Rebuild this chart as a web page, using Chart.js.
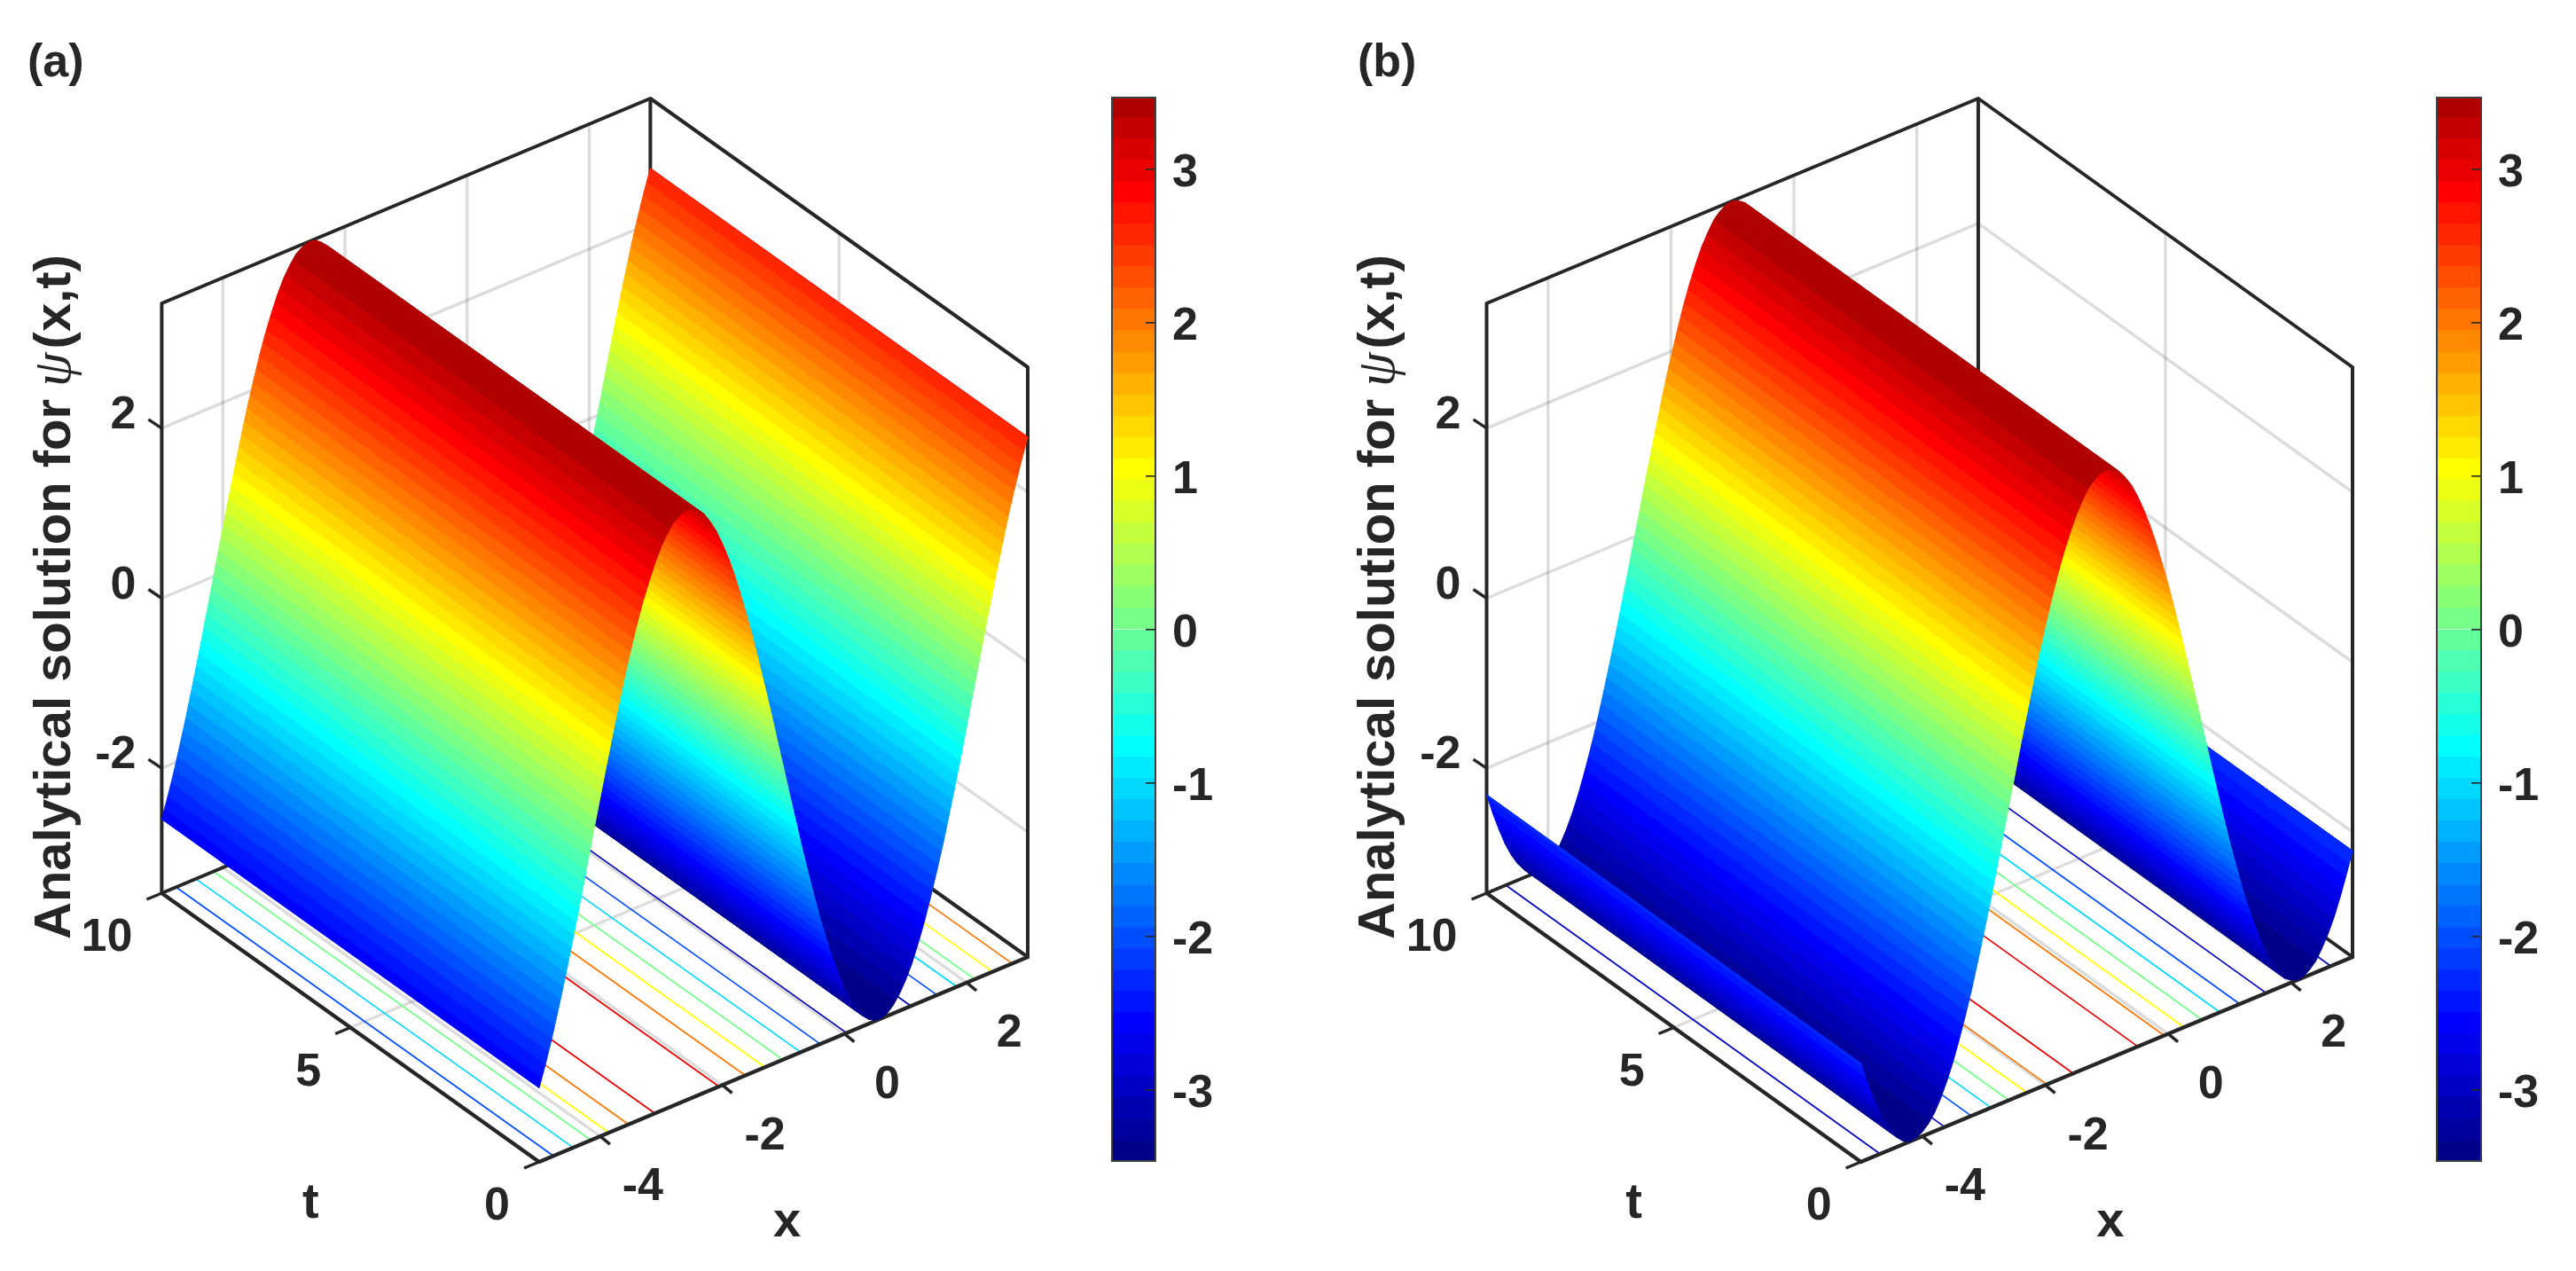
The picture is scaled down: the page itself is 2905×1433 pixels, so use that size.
<!DOCTYPE html>
<html><head><meta charset="utf-8">
<style>html,body{margin:0;padding:0;background:#fff;width:2905px;height:1433px;overflow:hidden}canvas{position:absolute;display:block;filter:blur(0.6px)}</style>
<script src="https://cdn.jsdelivr.net/npm/chart.js@4"></script>
</head><body>
<canvas id="panelA" style="left:0;top:0" width="2905" height="1433"></canvas>
<canvas id="panelB" style="left:0;top:0" width="2905" height="1433"></canvas>
<canvas id="barA" style="left:1253px;top:109px" width="197" height="1201"></canvas>
<canvas id="barB" style="left:2747px;top:109px" width="158" height="1201"></canvas>
<script>
// ---- data ----
const xValues=[-5,-4.9,-4.8,-4.7,-4.6,-4.5,-4.4,-4.3,-4.2,-4.1,-4,-3.9,-3.8,-3.7,-3.6,-3.5,-3.4,-3.3,-3.2,-3.1,-3,-2.9,-2.8,-2.7,-2.6,-2.5,-2.4,-2.3,-2.2,-2.1,-2,-1.9,-1.8,-1.7,-1.6,-1.5,-1.4,-1.3,-1.2,-1.1,-1,-0.9,-0.8,-0.7,-0.6,-0.5,-0.4,-0.3,-0.2,-0.1,0,0.1,0.2,0.3,0.4,0.5,0.6,0.7,0.8,0.9,1,1.1,1.2,1.3,1.4,1.5,1.6,1.7,1.8,1.9,2,2.1,2.2,2.3,2.4,2.5,2.6,2.7,2.8,2.9,3];
const psiA=[-2.60,-2.36,-2.10,-1.81,-1.51,-1.19,-0.86,-0.52,-0.17,0.18,0.52,0.86,1.19,1.51,1.82,2.10,2.37,2.61,2.82,3.01,3.17,3.29,3.39,3.44,3.47,3.46,3.41,3.34,3.22,3.08,2.90,2.70,2.47,2.21,1.93,1.64,1.32,0.99,0.66,0.31,-0.03,-0.38,-0.72,-1.06,-1.38,-1.69,-1.99,-2.26,-2.51,-2.74,-2.94,-3.11,-3.25,-3.35,-3.42,-3.46,-3.47,-3.44,-3.37,-3.27,-3.14,-2.98,-2.78,-2.56,-2.31,-2.04,-1.76,-1.45,-1.13,-0.80,-0.46,-0.11,0.23,0.58,0.92,1.25,1.56,1.87,2.15,2.41,2.65];
const psiB=[-2.31,-2.56,-2.78,-2.98,-3.14,-3.27,-3.37,-3.44,-3.47,-3.46,-3.42,-3.35,-3.25,-3.11,-2.94,-2.74,-2.51,-2.26,-1.99,-1.69,-1.38,-1.06,-0.72,-0.38,-0.03,0.31,0.66,0.99,1.32,1.64,1.93,2.21,2.47,2.70,2.90,3.08,3.22,3.34,3.41,3.46,3.47,3.44,3.39,3.29,3.17,3.01,2.82,2.61,2.37,2.10,1.82,1.51,1.19,0.86,0.52,0.18,-0.17,-0.52,-0.86,-1.19,-1.51,-1.81,-2.10,-2.36,-2.60,-2.82,-3.01,-3.17,-3.29,-3.39,-3.44,-3.47,-3.46,-3.41,-3.34,-3.22,-3.08,-2.91,-2.70,-2.47,-2.22];
const tRange=[0,10];
const xTicks=[-4,-2,0,2];
const tTicks=[0,5,10];
const zTicks=[-2,0,2];
const colorbarTicks=[-3,-2,-1,0,1,2,3];
const contourLevels=[-3,-2,-1,0,1,2,3];
const zLimits=[-3.47,3.47];
const xLimits=[-5,3];
const yTitleText=['Analytical solution for ','\u03C8','(x,t)'];

// ---- axes calibration of the two 3D boxes (page pixels) ----
const boxA={front:[608,1310],left:[182.4,1007],right:[1159,1079],labelX:31,titleX:79,name:'(a)'};
const boxB={front:[2098.6,1310],left:[1676.5,1007],right:[2653,1079],labelX:1531,titleX:1572,name:'(b)'};
const zHeight=665;
const INK='#262626', GRID='rgba(38,38,38,0.16)';
const FONT='"Liberation Sans", Arial, sans-serif';

function jetTable(m){
  const n=Math.ceil(m/4),u=[];
  for(let i=1;i<=n;i++)u.push(i/n);
  for(let i=1;i<n;i++)u.push(1);
  for(let i=n;i>=1;i--)u.push(i/n);
  const g0=Math.ceil(n/2)-(m%4===1?1:0),J=[];
  for(let i=0;i<m;i++)J.push([0,0,0]);
  u.forEach((v,i)=>{const g=g0+i+1,r=g+n,b=g-n;
    if(r<=m)J[r-1][0]=v; if(g<=m)J[g-1][1]=v; if(b>=1)J[b-1][2]=v;});
  return J.map(c=>`rgb(${c.map(v=>Math.round(v*255)).join(',')})`);
}
const JET=jetTable(50);
const bandSize=(zLimits[1]-zLimits[0])/50;
const bandOf=z=>Math.max(0,Math.min(49,Math.floor((z-zLimits[0])/bandSize)));

class PolygonController extends Chart.LineController{
  draw(){
    const pts=this.getMeta().data,ds=this.getDataset(),ctx=this.chart.ctx;
    ctx.save();ctx.beginPath();
    pts.forEach((p,i)=>i?ctx.lineTo(p.x,p.y):ctx.moveTo(p.x,p.y));
    ctx.closePath();ctx.fillStyle=ds.backgroundColor;ctx.fill();
    ctx.strokeStyle=ds.backgroundColor;ctx.lineWidth=1;ctx.lineJoin='round';ctx.stroke();
    ctx.restore();
  }
}
PolygonController.id='polygon';
PolygonController.defaults=Chart.LineController.defaults;
Chart.register(PolygonController);

function panel(id,box,psi){
  const xs=(xLimits[1]-xLimits[0]);
  const ux=[(box.right[0]-box.front[0])/xs,(box.right[1]-box.front[1])/xs];
  const ut=[(box.left[0]-box.front[0])/tRange[1],(box.left[1]-box.front[1])/tRange[1]];
  const uz=zHeight/(zLimits[1]-zLimits[0]);
  const P=(x,t,z)=>({x:box.front[0]+(x-xLimits[0])*ux[0]+t*ut[0],
                     y:box.front[1]+(x-xLimits[0])*ux[1]+t*ut[1]-(z-zLimits[0])*uz});
  const sets=[];
  const line=(pts,color,width,cap)=>sets.push({type:'line',data:pts,borderColor:color,borderWidth:width,pointRadius:0,fill:false,tension:0,borderCapStyle:cap||'butt',borderJoinStyle:'round'});
  const [zLo,zHi]=zLimits,[xLo,xHi]=xLimits,[t0,t1]=tRange;

  // grid on the floor and the two back walls
  xTicks.forEach(x=>{line([P(x,t0,zLo),P(x,t1,zLo),P(x,t1,zHi)],GRID,3.4);});
  tTicks.filter(t=>t>t0&&t<t1).forEach(t=>{line([P(xLo,t,zLo),P(xHi,t,zLo),P(xHi,t,zHi)],GRID,3.4);});
  zTicks.forEach(z=>{line([P(xLo,t1,z),P(xHi,t1,z),P(xHi,t0,z)],GRID,3.4);});

  // contour lines on the floor
  contourLevels.forEach(L=>{
    for(let i=0;i<psi.length-1;i++){
      const a=psi[i]-L,b=psi[i+1]-L;
      if(a*b<0||(a===0)){
        const x=xValues[i]+(xValues[i+1]-xValues[i])*a/(a-b);
        line([P(x,t0,zLo),P(x,t1,zLo)],JET[bandOf(L)],1.7);
      }
    }
  });

  // box
  line([P(xLo,t1,zLo),P(xLo,t1,zHi),P(xHi,t1,zHi),P(xHi,t0,zHi),P(xHi,t0,zLo)],INK,4,'round');
  line([P(xHi,t1,zLo),P(xHi,t1,zHi)],INK,4);
  line([P(xLo,t1,zLo),P(xHi,t1,zLo),P(xHi,t0,zLo)],INK,4);
  line([P(xLo,t1,zLo),P(xLo,t0,zLo),P(xHi,t0,zLo)],INK,4.4,'round');

  // ticks
  const tickX=[11,9],tickT=[-17,7],tickZ=[-15,-10];
  const seg=(p,d)=>line([p,{x:p.x+d[0],y:p.y+d[1]}],INK,3.4);
  xTicks.forEach(x=>seg(P(x,t0,zLo),tickX));
  tTicks.forEach(t=>seg(P(xLo,t,zLo),tickT));
  zTicks.forEach(z=>seg(P(xLo,t1,z),tickZ));

  // surface, far strips first
  for(let i=psi.length-2;i>=0;i--){
    const x1=xValues[i],x2=xValues[i+1],z1=psi[i],z2=psi[i+1];
    const cuts=[0,1];
    for(let k=0;k<=50;k++){const L=zLo+k*bandSize,s=(L-z1)/(z2-z1);if(s>0&&s<1)cuts.push(s);}
    cuts.sort((a,b)=>b-a);
    for(let c=0;c<cuts.length-1;c++){
      const sb=cuts[c],sa=cuts[c+1];
      const xa=x1+(x2-x1)*sa,xb=x1+(x2-x1)*sb,za=z1+(z2-z1)*sa,zb=z1+(z2-z1)*sb;
      sets.push({type:'polygon',data:[P(xa,t1,za),P(xb,t1,zb),P(xb,t0,zb),P(xa,t0,za)],
        backgroundColor:JET[bandOf((za+zb)/2)],borderWidth:0,pointRadius:0,fill:false});
    }
  }
  sets.forEach((s,i)=>{s.order=sets.length-i;});

  const textPlugin={id:'text3d',afterDatasetsDraw(chart){
    const c=chart.ctx;c.save();c.fillStyle=INK;c.textBaseline='middle';
    c.font=`bold 52px ${FONT}`;
    c.textAlign='center';
    xTicks.forEach(x=>{const p=P(x,t0,zLo);c.fillText(String(x),p.x+48,p.y+58);});
    c.textAlign='right';
    tTicks.forEach(t=>{const p=P(xLo,t,zLo);c.fillText(String(t),p.x-33,p.y+51);});
    zTicks.forEach(z=>{const p=P(xLo,t1,z);c.fillText(String(z),p.x-29,p.y-14);});
    c.textAlign='center';
    c.font=`bold 56px ${FONT}`;
    const mt=P(xLo,5,zLo);c.fillText('t',mt.x-45,mt.y+199);
    const mx=P((xLo+xHi)/2,t0,zLo);c.fillText('x',mx.x+4,mx.y+184);
    c.textAlign='left';c.textBaseline='alphabetic';
    c.font=`bold 52px ${FONT}`;c.fillText(box.name,box.labelX,86);
    // rotated z title
    c.save();c.translate(box.titleX,1059);c.rotate(-Math.PI/2);
    const bf=`bold 58px ${FONT}`;
    c.font=bf;c.fillText(yTitleText[0].trimEnd(),0,0);
    let pos=c.measureText(yTitleText[0].trimEnd()).width+14;
    c.font='italic 62px "Liberation Serif", serif';c.fillText(yTitleText[1],pos,0);
    pos+=c.measureText(yTitleText[1]).width+4;
    c.font=bf;c.fillText(yTitleText[2],pos,0);
    c.restore();
    c.restore();
  }};

  new Chart(document.getElementById(id),{
    type:'line',data:{datasets:sets},plugins:[textPlugin],
    options:{responsive:false,animation:false,events:[],devicePixelRatio:1,
      layout:{padding:0},
      plugins:{legend:{display:false},tooltip:{enabled:false},title:{display:false}},
      scales:{x:{type:'linear',display:false,min:0,max:2905},
              y:{type:'linear',display:false,min:0,max:1433,reverse:true}}}
  });
}

function colorbar(id,barWidth){
  const sets=JET.map((color,k)=>({data:[[zLimits[0]+k*bandSize,zLimits[0]+(k+1)*bandSize]],backgroundColor:color,borderWidth:0,inflateAmount:0.6,barPercentage:1,categoryPercentage:1,grouped:false}));
  const frame={id:'frame',afterDraw(ch){const a=ch.chartArea,c=ch.ctx;c.save();c.strokeStyle='#404040';c.lineWidth=2;
    c.strokeRect(a.left+1,a.top+1,a.right-a.left-2,a.bottom-a.top-2);c.restore();}};
  new Chart(document.getElementById(id),{
    type:'bar',data:{labels:['psi'],datasets:sets},plugins:[frame],
    options:{responsive:false,animation:false,events:[],devicePixelRatio:1,
      layout:{padding:0},
      plugins:{legend:{display:false},tooltip:{enabled:false}},
      scales:{
        x:{display:false},
        y:{type:'linear',position:'right',min:zLimits[0],max:zLimits[1],
           afterBuildTicks:s=>{s.ticks=colorbarTicks.map(v=>({value:v}));},
           afterFit:s=>{
             s.width=document.getElementById(id).width-barWidth;s.paddingTop=0;s.paddingBottom=0;
             if(!s._labelShift){s._labelShift=true;const base=s._computeLabelItems;
               s._computeLabelItems=function(area){const items=base.call(this,area);
                 items.forEach(it=>{it.options.translation=[it.options.translation[0],it.options.translation[1]+5];});return items;};}
           },
           border:{display:false},
           grid:{drawOnChartArea:false,drawTicks:true,tickLength:-12,color:INK,lineWidth:1.6,z:1},
           ticks:{color:INK,font:{family:'Liberation Sans',weight:'bold',size:52},padding:30,autoSkip:false,callback:v=>String(v)}}
      }}
  });
}

panel('panelA',boxA,psiA);
panel('panelB',boxB,psiB);
colorbar('barA',51);
colorbar('barB',52);
</script>
</body></html>
